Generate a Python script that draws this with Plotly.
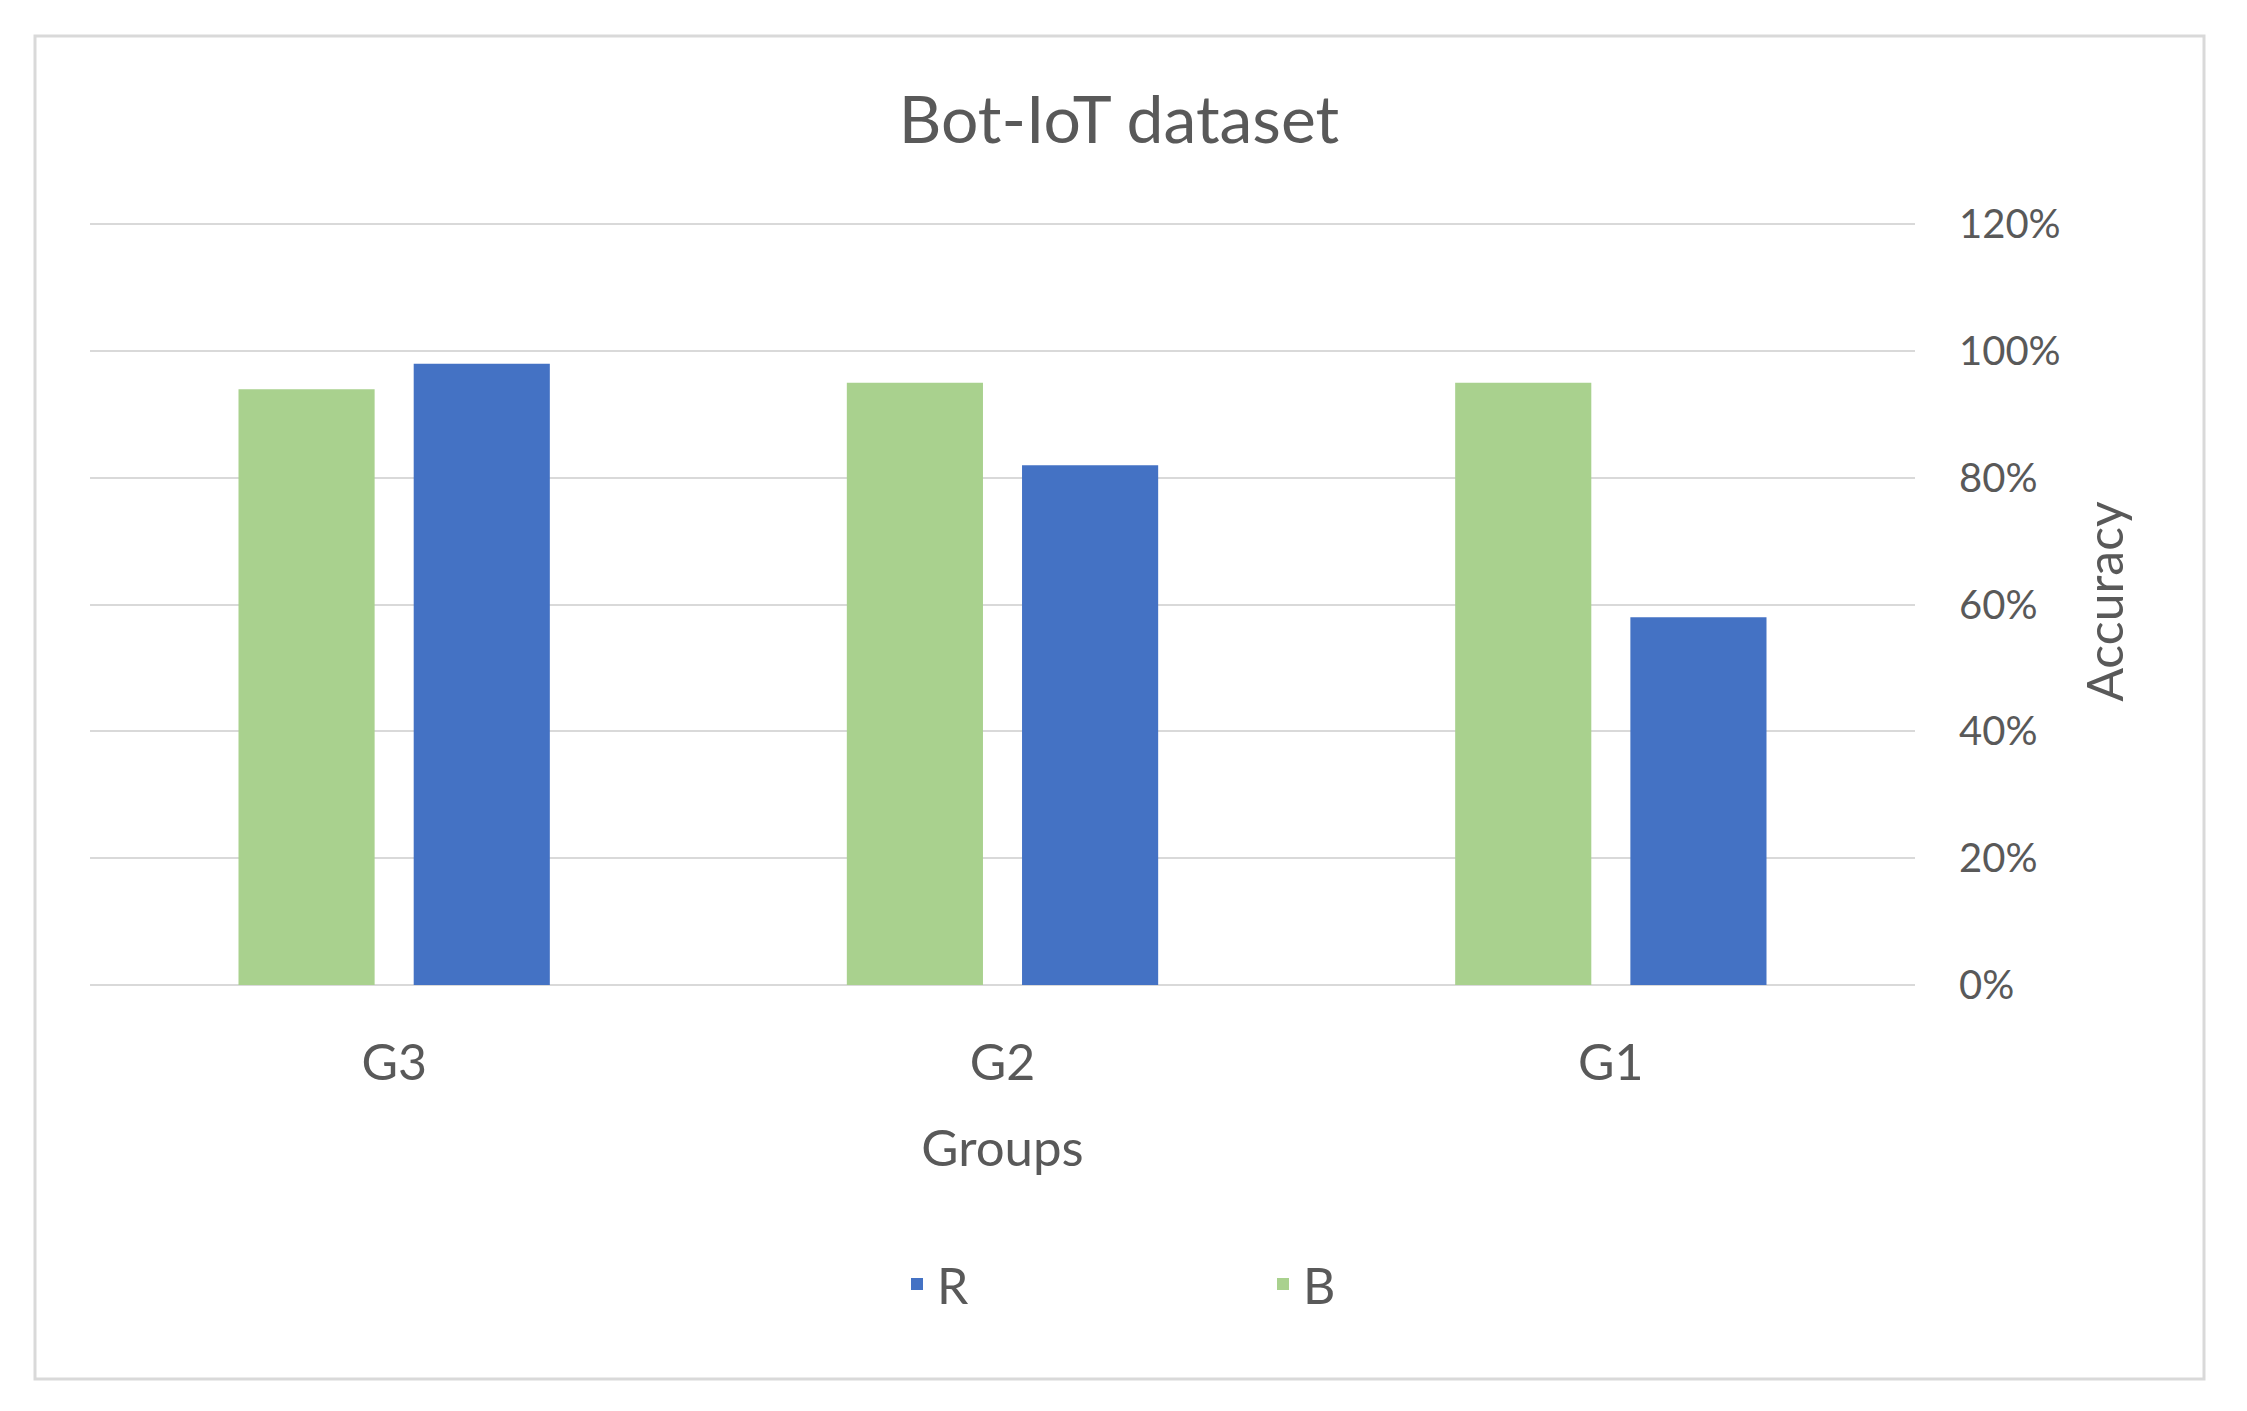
import plotly.graph_objects as go

# ---- data ----
groups = ["G1", "G2", "G3"]
r_values = [0.58, 0.82, 0.98]
b_values = [0.95, 0.95, 0.94]
series_names = ["R", "B"]
series_colors = ["#4472C4", "#A9D18E"]
y_ticks = [0, 0.2, 0.4, 0.6, 0.8, 1.0, 1.2]
y_max = 1.21

FONT = "Lato"
TXT = "#595959"
GRID = "#D9D9D9"

OFF = 8  # page body margin
W, H = 2247 - OFF, 1411 - OFF
# plot area in screen pixels: x 90..1915, 0% at y 985, 120% at y 224
pw = 1825
ph = round(761 * y_max / 1.2)
ML = 90 - OFF
MT = 985 - ph - OFF
MR, MB = W - ML - pw, H - MT - ph

fig = go.Figure()
for name, vals, col in zip(series_names, [r_values, b_values], series_colors):
    fig.add_trace(go.Bar(name=name, x=groups, y=vals, marker=dict(color=col, line=dict(width=0))))

def sx(p):  # screen px -> paper x
    return (p - OFF - ML) / pw

def sy(p):  # screen px -> paper y
    return (MT + ph - (p - OFF)) / ph

fig.update_layout(
    width=W, height=H,
    margin=dict(l=ML, r=MR, t=MT, b=MB),
    paper_bgcolor="white", plot_bgcolor="white",
    barmode="group", bargap=0.424, bargroupgap=0.223,
    font=dict(family=FONT, color=TXT),
    title=dict(text="Bot-IoT dataset", x=(1119 - OFF) / W, xanchor="center",
               y=1 - (120 - OFF) / H, yanchor="middle", yref="container",
               font=dict(size=66, color=TXT, family=FONT)),
    xaxis=dict(autorange="reversed", type="category", showgrid=False,
               showline=False, ticks="", ticklabelstandoff=44,
               tickfont=dict(size=50, color=TXT),
               title=dict(text="Groups", font=dict(size=51, color=TXT), standoff=40)),
    yaxis=dict(side="right", range=[0, y_max], tickvals=y_ticks, tickformat=".0%",
               showgrid=True, gridcolor=GRID, gridwidth=2,
               zeroline=True, zerolinecolor=GRID, zerolinewidth=2,
               showline=False, ticks="", ticklabelstandoff=43,
               tickfont=dict(size=40, color=TXT),
               title=dict(text="Accuracy", font=dict(size=50, color=TXT), standoff=28)),
    legend=dict(orientation="h", x=sx(897), xanchor="left",
                y=sy(1284), yanchor="middle",
                font=dict(size=50, color=TXT), entrywidth=321, traceorder="normal"),
    shapes=[dict(type="rect", xref="paper", yref="paper",
                 x0=sx(35), x1=sx(2204), y0=sy(1379), y1=sy(36),
                 line=dict(color=GRID, width=3), layer="below")],
)

fig.write_html("out.html")
